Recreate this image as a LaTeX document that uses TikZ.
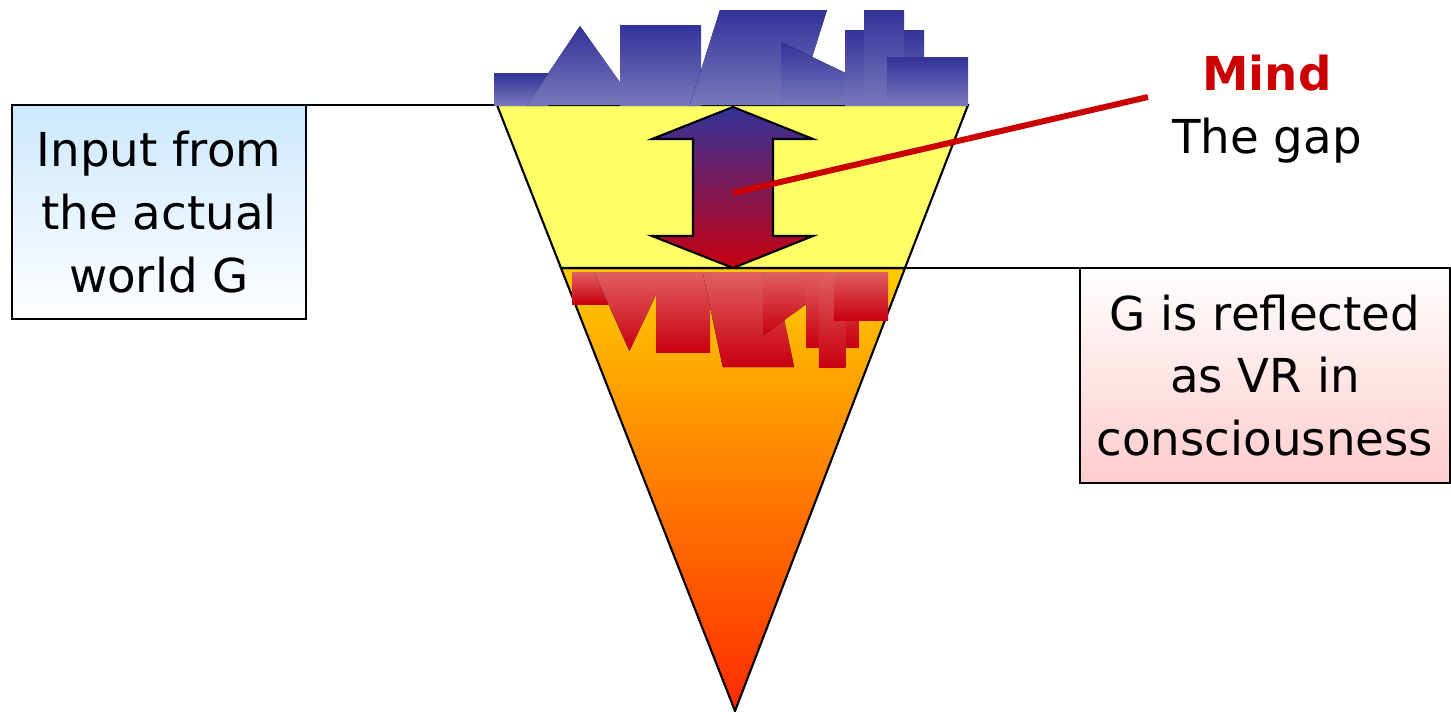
\documentclass[tikz,border=0pt]{standalone}
\usepackage{fontspec}
\setmainfont{DejaVu Sans}
\usetikzlibrary{positioning}

\definecolor{skydark}{HTML}{333399}
\definecolor{skylight}{HTML}{7878BC}
\definecolor{redlight}{HTML}{E06060}
\definecolor{reddark}{HTML}{C80010}
\definecolor{gapyellow}{HTML}{FFFF66}
\definecolor{deeptop}{HTML}{FFCC00}
\definecolor{deepmid}{HTML}{FF9900}
\definecolor{deepbot}{HTML}{FF2A00}
\definecolor{inblue}{HTML}{CCE8FF}
\definecolor{outpink}{HTML}{FFCCCC}
\definecolor{mindred}{HTML}{CC0000}

% the city skyline, drawn twice: as the world and as its reflection
\newcommand{\cityshapes}{%
  \fill[city] (494,73) rectangle (548,105);
  \fill[city] (527,105) -- (580,26) -- (636,105) -- cycle;
  \fill[city] (620,25) rectangle (701,105);
  \fill[city] (690,105) -- (720,10) -- (827,10) -- (797,105) -- cycle;
  \fill[city] (781,42) -- (912,105) -- (781,105) -- cycle;
  \fill[city] (845,30) rectangle (924,105);
  \fill[city] (864,10) rectangle (904,105);
  \fill[city] (887,57) rectangle (968,105);
}

\begin{document}
\begin{tikzpicture}[
  x=0.02cm, y=-0.02cm,
  txt/.style={font=\fontsize{26.6}{35.7}\selectfont},
  box/.style={rectangle, draw, line width=0.9pt, txt, align=center,
              inner sep=0pt, outer sep=0pt, anchor=north west},
  inbox/.style={box, minimum width=5.88cm, minimum height=4.28cm,
                top color=inblue, bottom color=white},
  outbox/.style={box, minimum width=7.4cm, minimum height=4.3cm,
                 top color=white, bottom color=outpink},
  edge/.style={draw=black, line width=1.2pt},
  thin/.style={black, line width=1pt},
  city/.style={top color=skydark, bottom color=skylight},
  mindline/.style={mindred, line width=3.4pt}
]
\useasboundingbox (0,0) rectangle (1451,711);

% funnel
\coordinate (tl)   at (497,105);
\coordinate (tr)   at (968,105);
\coordinate (ml)   at (561,268);
\coordinate (mr)   at (905,268);
\coordinate (apex) at (735,711);
\fill[edge, top color=deeptop, middle color=deepmid, bottom color=deepbot]
  (ml) -- (mr) -- (apex) -- cycle;
\fill[edge, fill=gapyellow] (tl) -- (tr) -- (mr) -- (ml) -- cycle;

% boxes
\node[inbox]  (input)   at (12,105)   {Input from\\the actual\\world G};
\node[outbox] (reflect) at (1080,268) {G is reflected\\as VR in\\consciousness};

\coordinate (gaptop) at (748,105);
\coordinate (gapbot) at (748,268);
\draw[thin] (input.north east) -- (gaptop);
\draw[thin] (gapbot) -- (reflect.north west);

% world and its reflection
\cityshapes
\begin{scope}[shift={(242.5,377)}, xscale=0.667, yscale=-1,
              city/.style={top color=redlight, bottom color=reddark}]
  \cityshapes
\end{scope}

% the gap arrow
\fill[edge, top color=skydark, bottom color=reddark]
  (733,107) -- (813,139) -- (773,139) -- (773,236) -- (813,236)
  -- (733,268) -- (652,236) -- (693,236) -- (693,139) -- (652,139) -- cycle;
\coordinate (gapmid) at (733,193);

% labels
\node[txt, font=\fontsize{26.6}{35.7}\selectfont\bfseries, text=mindred] (mind) at (1267,73) {Mind};
\node[txt] (gap) at (1267,141) {The gap};
\coordinate (mindend) at (1148,97);
\draw[mindline] (gapmid) -- (mindend);

\end{tikzpicture}
\end{document}
